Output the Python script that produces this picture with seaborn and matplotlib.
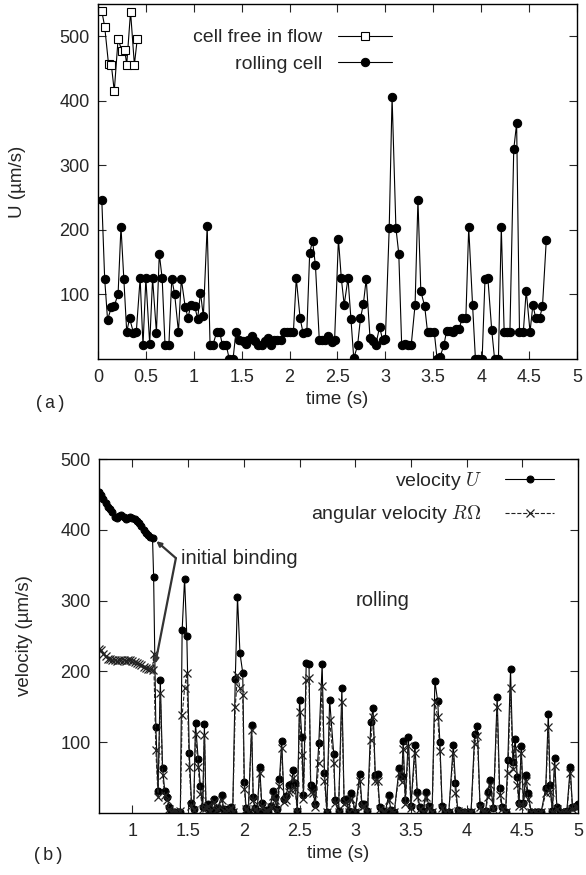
import numpy as np
import pandas as pd
import matplotlib
matplotlib.use('Agg')
import matplotlib.pyplot as plt
import seaborn as sns

# panel (a): cell free in flow
free_t = [0.04, 0.07, 0.11, 0.14, 0.17, 0.21, 0.25, 0.28, 0.30, 0.34, 0.38, 0.41]
free_u = [539, 515, 457, 455, 415, 496, 477, 478, 456, 538, 456, 496]

# panel (a): rolling cell
roll_t = [0.04, 0.07, 0.10, 0.14, 0.17, 0.21, 0.24, 0.27, 0.30, 0.33,
          0.37, 0.40, 0.44, 0.47, 0.50, 0.54, 0.57, 0.61, 0.64, 0.67,
          0.70, 0.74, 0.77, 0.80, 0.84, 0.87, 0.91, 0.94, 0.97, 1.01,
          1.04, 1.07, 1.10, 1.14, 1.17, 1.20, 1.24, 1.27, 1.30, 1.34,
          1.37, 1.41, 1.44, 1.47, 1.51, 1.54, 1.57, 1.61, 1.64, 1.67,
          1.71, 1.74, 1.77, 1.81, 1.84, 1.87, 1.91, 1.94, 1.97, 2.00,
          2.04, 2.07, 2.11, 2.14, 2.18, 2.21, 2.24, 2.27, 2.31, 2.34,
          2.37, 2.40, 2.44, 2.47,
          2.51, 2.54, 2.57, 2.61, 2.64, 2.67, 2.71, 2.74, 2.77, 2.80,
          2.84, 2.87, 2.90, 2.94, 2.97, 3.00, 3.04, 3.07, 3.11, 3.14,
          3.17, 3.21, 3.24, 3.27, 3.31, 3.34, 3.37, 3.41, 3.44, 3.47,
          3.51, 3.54, 3.57, 3.61, 3.64, 3.67, 3.71, 3.74, 3.77, 3.80,
          3.84, 3.87, 3.91, 3.94, 3.97, 4.01, 4.04, 4.07, 4.11, 4.14,
          4.18, 4.21, 4.24, 4.27, 4.30, 4.34, 4.37, 4.40, 4.44, 4.47,
          4.51, 4.54, 4.57, 4.61, 4.64, 4.68]
roll_u = [246, 124, 61, 80, 82, 101, 205, 124, 42, 63,
          41, 42, 125, 21, 125, 23, 125, 41, 163, 125,
          21, 21, 124, 101, 42, 124, 81, 64, 84, 82,
          62, 103, 66, 206, 22, 22, 42, 42, 21, 21,
          0, 0, 42, 30, 28, 24, 30, 36, 28, 22,
          22, 28, 33, 22, 30, 30, 30, 42, 42, 42,
          42, 125, 63, 41, 42, 165, 183, 145, 30, 30,
          30, 35, 26, 30,
          186, 125, 84, 125, 62, 1, 21, 63, 85, 124,
          32, 28, 22, 50, 30, 31, 203, 406, 203, 163,
          22, 23, 21, 22, 84, 247, 105, 82, 42, 42,
          42, 0, 3, 21, 44, 44, 42, 46, 46, 63,
          63, 204, 84, 0, 0, 0, 124, 125, 45, 0,
          0, 204, 42, 42, 42, 325, 365, 42, 42, 106,
          42, 84, 63, 63, 82, 185]

# panel (b): velocity U and angular velocity R*Omega
b_t = [0.70, 0.72, 0.74, 0.76, 0.78, 0.80, 0.82, 0.84, 0.86, 0.88,
       0.90, 0.92, 0.94, 0.96, 0.98, 1.00, 1.02, 1.04, 1.06, 1.08,
       1.10, 1.12, 1.14, 1.16, 1.18,
       1.19, 1.21, 1.23, 1.25, 1.27, 1.29, 1.31, 1.33, 1.35, 1.37,
       1.39, 1.41, 1.43, 1.446, 1.468, 1.488, 1.51, 1.53, 1.55, 1.566,
       1.59, 1.61, 1.63, 1.646, 1.66, 1.68, 1.70, 1.73, 1.75, 1.77,
       1.80, 1.82, 1.84, 1.86, 1.885, 1.90, 1.923, 1.943, 1.965, 1.99,
       2.004, 2.02, 2.04, 2.07, 2.084, 2.10, 2.12, 2.143, 2.16, 2.18,
       2.20, 2.22, 2.24, 2.26, 2.28, 2.30, 2.32, 2.34, 2.36, 2.375,
       2.405, 2.425, 2.444, 2.46, 2.48, 2.50, 2.52, 2.535, 2.56, 2.585,
       2.60, 2.62, 2.64, 2.673, 2.703, 2.724, 2.745, 2.77, 2.807, 2.82,
       2.85, 2.88, 2.90, 2.92, 2.94, 2.965, 3.00, 3.04, 3.06, 3.08,
       3.11, 3.14, 3.16, 3.18, 3.20, 3.22, 3.25, 3.27, 3.30, 3.32,
       3.35, 3.394, 3.418, 3.43, 3.45, 3.477, 3.50, 3.536, 3.557, 3.58,
       3.61, 3.634, 3.66, 3.69, 3.715, 3.74, 3.76, 3.78, 3.81, 3.84,
       3.88, 3.90, 3.92, 3.95, 3.98, 4.01, 4.04, 4.072, 4.096, 4.12,
       4.15, 4.17, 4.19, 4.21, 4.24, 4.274, 4.296, 4.32, 4.35, 4.37,
       4.394, 4.416, 4.436, 4.454, 4.47, 4.49, 4.51, 4.53, 4.55, 4.58,
       4.61, 4.64, 4.67, 4.71, 4.733, 4.75, 4.77, 4.79, 4.81, 4.84,
       4.87, 4.90, 4.93, 4.95, 4.98, 5.00]
b_u = [453, 449, 444, 438, 432, 429, 425, 418, 416, 420,
       421, 418, 415, 416, 418, 417, 415, 413, 410, 405,
       400, 395, 392, 390, 389,
       334, 122, 31, 188, 64, 31, 23, 8, 2, 1,
       0, 1, 2, 258, 331, 250, 85, 14, 5, 127,
       76, 38, 8, 125, 9, 13, 4, 20, 5, 7,
       25, 5, 3, 6, 9, 2, 189, 305, 226, 198,
       44, 7, 2, 124, 22, 7, 3, 65, 14, 3,
       4, 2, 10, 31, 23, 5, 48, 101, 20, 24,
       39, 41, 60, 43, 3, 160, 108, 26, 212, 210,
       39, 35, 12, 99, 210, 56, 2, 160, 83, 18,
       3, 176, 18, 20, 3, 28, 2, 55, 13, 13,
       3, 129, 148, 54, 55, 8, 3, 2, 25, 4,
       1, 63, 52, 101, 18, 107, 10, 96, 29, 8,
       3, 30, 10, 1, 186, 158, 100, 10, 2, 1,
       96, 43, 4, 1, 2, 1, 2, 111, 123, 11,
       2, 3, 29, 47, 7, 164, 35, 8, 2, 75,
       203, 72, 104, 51, 14, 94, 14, 54, 28, 2,
       1, 1, 2, 35, 140, 39, 3, 78, 8, 2,
       1, 3, 65, 9, 10, 12]
b_r = [232, 230, 225, 222, 218, 217, 216, 216, 215, 216,
       216, 216, 215, 216, 216, 214, 213, 212, 210, 209,
       206, 205, 204, 203, 202,
       225, 89, 23, 170, 54, 25, 18, 6, 2, 1,
       1, 0, 3, 138, 176, 198, 65, 10, 4, 112,
       65, 27, 6, 110, 7, 10, 3, 15, 4, 5,
       18, 3, 2, 4, 7, 1, 150, 195, 176, 166,
       34, 5, 2, 117, 18, 5, 2, 56, 10, 2,
       3, 1, 8, 24, 18, 4, 38, 92, 15, 18,
       30, 33, 50, 34, 2, 143, 82, 20, 188, 190,
       30, 28, 9, 70, 180, 45, 2, 131, 70, 14,
       2, 157, 12, 15, 2, 20, 1, 45, 9, 10,
       2, 103, 136, 45, 45, 6, 2, 1, 19, 3,
       1, 56, 44, 90, 13, 94, 7, 85, 22, 5,
       2, 22, 7, 1, 157, 136, 88, 7, 1, 1,
       85, 28, 3, 1, 1, 0, 1, 98, 109, 8,
       1, 2, 22, 40, 5, 150, 25, 6, 1, 56,
       176, 62, 92, 40, 10, 85, 10, 45, 20, 1,
       1, 0, 1, 28, 122, 30, 2, 66, 5, 1,
       1, 2, 56, 6, 8, 9]

sns.set_style('ticks')
plt.rcParams['font.family'] = ['Liberation Sans', 'DejaVu Sans']
plt.rcParams['mathtext.fontset'] = 'cm'
plt.rcParams['xtick.direction'] = 'in'
plt.rcParams['ytick.direction'] = 'in'
plt.rcParams['xtick.top'] = True
plt.rcParams['ytick.right'] = True
plt.rcParams['xtick.major.size'] = 6
plt.rcParams['ytick.major.size'] = 6
plt.rcParams['xtick.major.pad'] = 7
plt.rcParams['ytick.major.pad'] = 6
fs_tick = 13
fs_lab = 13.5
fs_leg = 14
fs_note = 14.5

fig = plt.figure(figsize=(5.86, 8.75), dpi=100)
ax1 = fig.add_axes([0.1672, 0.5897, 0.8174, 0.4057])
ax2 = fig.add_axes([0.1690, 0.0709, 0.8174, 0.4045])

# --- panel (a)
sns.lineplot(x=free_t, y=free_u, ax=ax1, color='black', lw=0.8, sort=False,
             estimator=None, marker='s', markersize=6, markerfacecolor='white',
             markeredgecolor='black', markeredgewidth=0.8, label='cell free in flow')
sns.lineplot(x=roll_t, y=roll_u, ax=ax1, color='black', lw=0.8, sort=False,
             estimator=None, marker='o', markersize=6, markeredgecolor='black',
             label='rolling cell')
ax1.set_xlim(0, 5)
ax1.set_ylim(0, 550)
ax1.set_xticks(np.arange(0, 5.01, 0.5))
ax1.set_xticklabels(['0', '0.5', '1', '1.5', '2', '2.5', '3', '3.5', '4', '4.5', '5'])
ax1.set_yticks([100, 200, 300, 400, 500])
ax1.set_xlabel('time (s)', fontsize=fs_lab, labelpad=4)
ax1.set_ylabel('U (µm/s)', fontsize=fs_lab, labelpad=24)
ax1.legend(loc='upper right', bbox_to_anchor=(0.614, 0.93), markerfirst=False,
           frameon=False, fontsize=fs_leg, handlelength=2.8, handletextpad=0.8,
           labelspacing=0.45, borderaxespad=0, borderpad=0)

# --- panel (b)
sns.lineplot(x=b_t, y=b_u, ax=ax2, color='black', lw=0.8, sort=False,
             estimator=None, marker='o', markersize=5, markeredgecolor='black',
             label='velocity $U$')
sns.lineplot(x=b_t, y=b_r, ax=ax2, color='#222222', lw=0.8, sort=False,
             estimator=None, marker='x', markersize=6, markeredgewidth=0.9,
             markeredgecolor='#222222', linestyle='--',
             label=r'angular velocity $R\Omega$')
ax2.set_xlim(0.7, 5)
ax2.set_ylim(0, 500)
ax2.set_xticks([1, 1.5, 2, 2.5, 3, 3.5, 4, 4.5, 5])
ax2.set_xticklabels(['1', '1.5', '2', '2.5', '3', '3.5', '4', '4.5', '5'])
ax2.set_yticks([100, 200, 300, 400, 500])
ax2.set_xlabel('time (s)', fontsize=fs_lab, labelpad=4)
ax2.set_ylabel('velocity (µm/s)', fontsize=fs_lab, labelpad=20)
ax2.legend(loc='upper right', bbox_to_anchor=(0.95, 0.97), markerfirst=False,
           frameon=False, fontsize=fs_leg, handlelength=2.5, handletextpad=1.2,
           labelspacing=0.6, borderaxespad=0, borderpad=0)

arrow = dict(arrowstyle='-|>', lw=1.6, color='#333333', mutation_scale=7,
             shrinkA=0, shrinkB=0)
ax2.annotate('', xy=(1.215, 384), xytext=(1.39, 360), arrowprops=arrow)
ax2.annotate('', xy=(1.205, 211), xytext=(1.39, 360), arrowprops=arrow)
ax2.text(1.44, 360, 'initial binding', fontsize=fs_note, va='center', ha='left')
ax2.text(3.0, 300, 'rolling', fontsize=fs_note, va='center', ha='left')

for ax in (ax1, ax2):
    ax.tick_params(labelsize=fs_tick, width=0.8)
    for s in ax.spines.values():
        s.set_linewidth(1.0)
        s.set_color('black')

fig.text(50 / 586, 1 - 403 / 875, '(a)', family='Liberation Mono', fontsize=13,
         ha='center', va='center')
fig.text(48 / 586, 1 - 855 / 875, '(b)', family='Liberation Mono', fontsize=13,
         ha='center', va='center')

plt.savefig('out.png', dpi=100)
